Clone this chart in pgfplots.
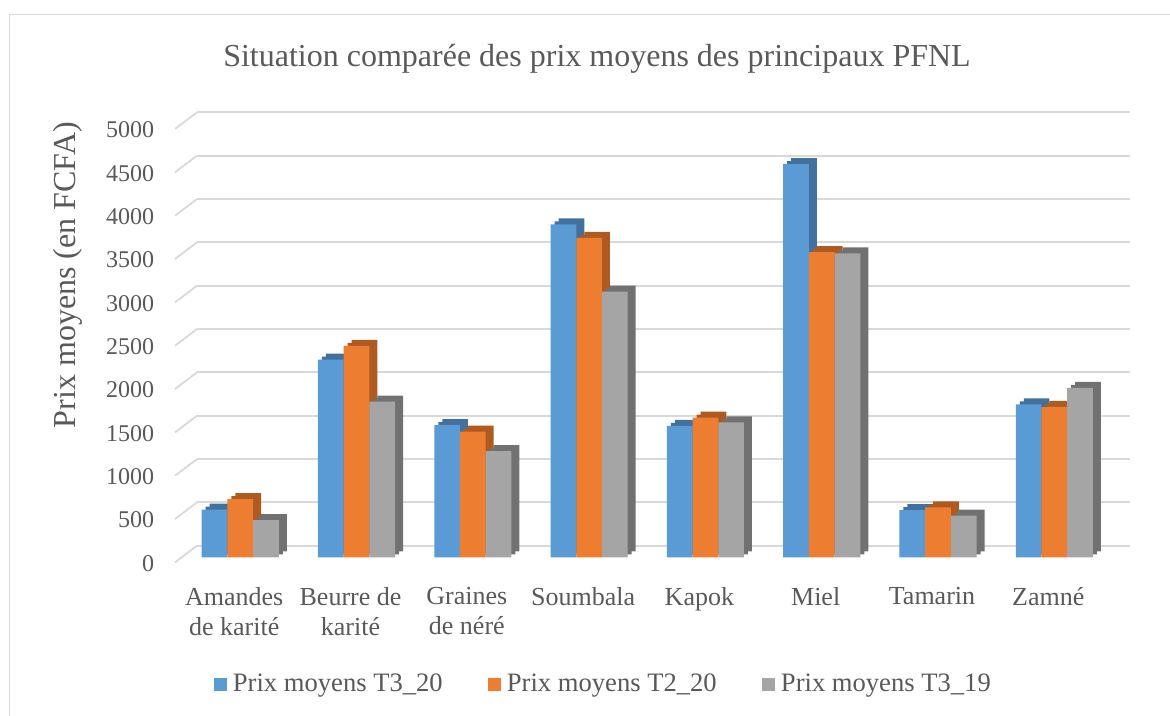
\documentclass[border=0pt]{standalone}
\usepackage{pgfplots}
\pgfplotsset{compat=1.18}
\usepackage{fontspec}
\setmainfont{Liberation Serif}
\definecolor{txt}{HTML}{595959}
\definecolor{gridc}{HTML}{D9D9D9}
\definecolor{cblue}{HTML}{5B9BD5}
\definecolor{corange}{HTML}{ED7D31}
\definecolor{cgray}{HTML}{A5A5A5}
\definecolor{dblue}{HTML}{41719C}
\definecolor{dorange}{HTML}{AE5A21}
\definecolor{dgray}{HTML}{717171}
\pgfplotstableread{
x t320 t220 t319
0 550 670 430
1 2280 2440 1795
2 1525 1450 1225
3 3840 3685 3065
4 1515 1610 1555
5 4535 3520 3505
6 545 575 480
7 1765 1735 1955
}\prix
\begin{document}
\begin{tikzpicture}
\useasboundingbox (0,0) rectangle (585bp,358bp);
\draw[gridc, line width=0.8bp] (4.75bp,-5bp) -- (4.75bp,350.75bp) -- (600bp,350.75bp);
% back wall gridlines
\begin{axis}[
  at={(98.5bp,85.15bp)}, anchor=south west, scale only axis,
  width=466.5bp, height=216.7bp,
  xmin=0, xmax=1, ymin=0, ymax=5000,
  axis line style={draw=none}, major tick length=0,
  xtick=\empty, ytick={0,500,...,5000}, yticklabel=\empty,
  ymajorgrids, grid style={gridc, line width=0.9bp},
  clip=false,
]
\pgfplotsinvokeforeach{0,500,...,5000}{
  \draw[gridc, line width=0.9bp] (axis cs:0,#1) -- ++(-11bp,-8.35bp);
}
\end{axis}
% bars
\begin{axis}[
  at={(91.025bp,79.35bp)}, anchor=south west, scale only axis,
  width=465.2bp, height=216.75bp,
  ybar, bar width=12.85bp,
  xmin=-0.5, xmax=7.5, ymin=0, ymax=5000,
  axis line style={draw=none}, major tick length=0,
  xtick={0,...,7},
  xticklabels={{Amandes\\de karité},{Beurre de\\karité},{Graines\\de néré},{Soumbala},{Kapok},{Miel},{Tamarin},{Zamné}},
  xticklabel style={align=center, font=\fontsize{13bp}{15bp}\selectfont, text=txt, xshift=-3bp, inner sep=0pt, yshift=-15bp, anchor=north},
  ytick={0,500,...,5000},
  /pgf/number format/assume math mode=true,
  /pgf/number format/1000 sep={},
  yticklabel style={font=\fontsize{12bp}{14bp}\selectfont, text=txt, inner sep=0pt, anchor=east, xshift=-13.8bp, yshift=-3bp},
  ylabel={Prix moyens (en FCFA)},
  ylabel style={at={(axis description cs:-0.1225,0.651)}, anchor=center, font=\fontsize{16bp}{19bp}\selectfont, text=txt},
  title={Situation comparée des prix moyens des principaux PFNL},
  title style={at={(axis description cs:0.446,1.122)}, anchor=center, font=\fontsize{16bp}{19bp}\selectfont, text=txt},
  legend columns=3,
  legend style={at={(axis description cs:0.0336,-0.2934)}, anchor=west, draw=none, inner sep=0pt,
    column sep=3bp, nodes={inner sep=0pt, text=txt},
    font=\fontsize{13.3bp}{15bp}\selectfont,
    /tikz/every even column/.append style={column sep=22.5bp}},
  legend image code/.code={\fill[#1] (0bp,-3.2bp) rectangle (6.6bp,3.2bp);},
]
% 3D depth (side and top faces)
\addplot[ybar, bar shift=-10.85bp, yshift=1.5bp, fill=dblue, draw=none, forget plot] table[x=x,y=t320] {\prix};
\addplot[ybar, bar shift=-8.85bp, yshift=3bp, fill=dblue, draw=none, forget plot] table[x=x,y=t320] {\prix};
\addplot[ybar, bar shift=2bp, yshift=1.5bp, fill=dorange, draw=none, forget plot] table[x=x,y=t220] {\prix};
\addplot[ybar, bar shift=4bp, yshift=3bp, fill=dorange, draw=none, forget plot] table[x=x,y=t220] {\prix};
\addplot[ybar, bar shift=14.85bp, yshift=1.5bp, fill=dgray, draw=none, forget plot] table[x=x,y=t319] {\prix};
\addplot[ybar, bar shift=16.85bp, yshift=3bp, fill=dgray, draw=none, forget plot] table[x=x,y=t319] {\prix};
% front faces
\addplot[ybar, bar shift=-12.85bp, fill=cblue, draw=none] table[x=x,y=t320] {\prix};
\addplot[ybar, bar shift=0bp, fill=corange, draw=none] table[x=x,y=t220] {\prix};
\addplot[ybar, bar shift=12.85bp, fill=cgray, draw=none] table[x=x,y=t319] {\prix};
\legend{Prix moyens T3\_20, Prix moyens T2\_20, Prix moyens T3\_19}
\end{axis}
\end{tikzpicture}
\end{document}
